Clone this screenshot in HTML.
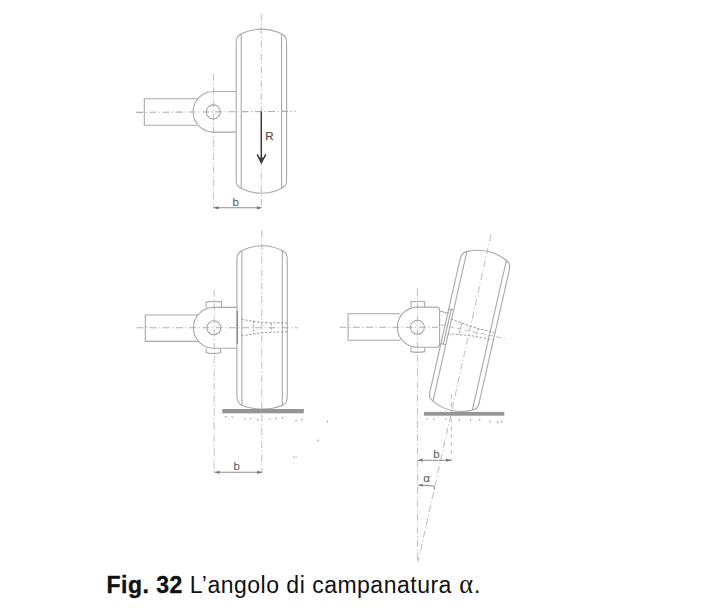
<!DOCTYPE html>
<html><head><meta charset="utf-8">
<style>
html,body{margin:0;padding:0;background:#fff;width:704px;height:615px;overflow:hidden}
svg{position:absolute;left:0;top:0}
.cap{position:absolute;left:106.5px;top:571px;font-family:"Liberation Sans",sans-serif;font-size:23px;letter-spacing:0.5px;color:#111;white-space:nowrap;line-height:28px}
.cap b{font-weight:bold;-webkit-text-stroke:0.35px #111}
.al{font-family:"Liberation Serif",serif;font-size:26.3px;margin-left:0.5px;letter-spacing:1px}
</style></head>
<body>
<svg width="704" height="615" viewBox="0 0 704 615">
<defs><path id="tire" d="M -25.2,-68.5 C -25.2,-73.5 -23.4,-75.5 -20.2,-77.1 A 48.57 48.57 0 0 1 20.2,-77.1 C 23.4,-75.5 25.2,-73.5 25.2,-68.5 L 25.2,68.5 C 25.2,73.5 23.4,74.9 20.2,76.5 A 43.30 43.30 0 0 1 -20.2,76.5 C -23.4,74.9 -25.2,73.5 -25.2,68.5 Z M -20.2,-77.1 V 76.5 M 20.2,-77.1 V 76.5"/><path id="tire2" d="M -25.2,-68.5 C -25.2,-73.5 -23.4,-75.5 -20.2,-77.1 A 48.57 48.57 0 0 1 20.2,-77.1 C 23.4,-75.5 25.2,-73.5 25.2,-68.5 L 25.2,68.5 C 25.2,73.5 23.4,76.30000000000001 20.2,77.9 A 58.47 58.47 0 0 1 -20.2,77.9 C -23.4,76.30000000000001 -25.2,73.5 -25.2,68.5 Z M -20.2,-77.1 V 77.9 M 20.2,-77.1 V 77.9"/></defs>
<g fill="none" stroke="#a9a9a9" stroke-width="1.1">
<path d="M261.3,14 V208" stroke="#c4c4c4" stroke-dasharray="7 2.5 1.2 2.5"/>
<path d="M136,112.4 L296,111.3" stroke="#b0b0b0" stroke-dasharray="7 2.5 1.2 2.5"/>
<path d="M213.5,74 V208" stroke="#c4c4c4" stroke-dasharray="7 2.5 1.2 2.5"/>
<path d="M197.6,98.8 H144.3 V125.3 H197.6"/>
<path d="M236.4,91.5 H213.4 A20.3 20.3 0 0 0 213.4,132.1 H236.4"/>
<circle cx="213.3" cy="111.9" r="7"/>
<g transform="translate(261.4,111.3) scale(1,1.005)"><use href="#tire"/></g>
<path d="M214,207.8 H261.5" stroke="#8a8a8a"/>
</g>
<path d="M213.6,207.8 l5,-1.6 v3.2z M261.9,207.8 l-5,-1.6 v3.2z" fill="#777" stroke="none"/>
<path d="M261.3,111.5 V158" stroke="#3c3c3c" stroke-width="1.5" fill="none"/>
<path d="M257.2,154.3 L261.3,162.6 L265.9,154.3" stroke="#3c3c3c" stroke-width="1.5" fill="none" stroke-linejoin="miter"/>
<path d="M259.3,157.5 L261.3,163 L263.5,157.5z" fill="#3c3c3c"/>
<text x="265.2" y="140.3" font-family="Liberation Sans,sans-serif" font-size="11.5" fill="#505050" stroke="#505050" stroke-width="0.25">R</text>
<text x="232.4" y="205.6" font-family="Liberation Sans,sans-serif" font-size="11.5" fill="#555">b</text>
<g fill="none" stroke="#a9a9a9" stroke-width="1.1">
<path d="M261.8,230 V473" stroke="#c4c4c4" stroke-dasharray="7 2.5 1.2 2.5"/>
<path d="M136.4,327.8 H297.5" stroke="#b0b0b0" stroke-dasharray="7 2.5 1.2 2.5"/>
<path d="M214.2,290 V473" stroke="#c4c4c4" stroke-dasharray="7 2.5 1.2 2.5"/>
<path d="M198,315 H145.3 V341.4 H198"/>
<path d="M237.2,307.4 H213.9 A20.45 20.45 0 0 0 213.9,348.3 H237.2"/>
<path d="M206.2,307.4 V301.9 Q213.8,301.2 221.5,301.9 V307.4"/>
<path d="M206.2,348.3 V352.8 Q213.5,354.4 220.8,352.8 V348.3"/>
<circle cx="213.9" cy="327.8" r="7"/>
<g transform="translate(262.1,327.5)"><use href="#tire2"/></g>
<g stroke-dasharray="2.5 1.5" stroke="#a8a8a8">
<path d="M241.2,319.4 L263,322.6 L287.5,323"/>
<path d="M241.2,335.8 L263,332.6 L287.5,331.7"/>
<path d="M253.4,321 V334"/>
<path d="M271.5,323 V331.6"/>
<path d="M237.4,311 V344" stroke="#8a8a8a" stroke-dasharray="none" stroke-width="1.3"/>
</g>
<path d="M214.5,472.3 H262.2" stroke="#8a8a8a"/>
</g>
<path d="M214.5,472.3 l5,-1.6 v3.2z M262.2,472.3 l-5,-1.6 v3.2z" fill="#777" stroke="none"/>
<rect x="222.3" y="409" width="81.5" height="4.3" fill="#959595"/>
<g fill="#999"><rect x="225" y="416" width="1.3" height="1.3"/><rect x="231.5" y="416.5" width="1.3" height="1.3"/><rect x="244.3" y="418.5" width="1.3" height="1.3"/><rect x="250" y="418" width="1.3" height="1.3"/><rect x="257" y="419" width="1.3" height="1.3"/><rect x="269.2" y="418.5" width="1.3" height="1.3"/><rect x="275.6" y="418" width="1.3" height="1.3"/><rect x="282" y="417" width="1.3" height="1.3"/><rect x="295.4" y="420" width="1.3" height="1.3"/><rect x="301.2" y="419" width="1.3" height="1.3"/></g>
<text x="233.5" y="469.5" font-family="Liberation Sans,sans-serif" font-size="11.5" fill="#555">b</text>
<g fill="none" stroke="#a9a9a9" stroke-width="1.1">
<path d="M339.6,327.3 H438" stroke="#b0b0b0" stroke-dasharray="7 2.5 1.2 2.5"/>
<path d="M417.5,289 V562" stroke="#c4c4c4" stroke-dasharray="7 2.5 1.2 2.5"/>
<path d="M491,234.5 L418,562" stroke="#c4c4c4" stroke-dasharray="7 2.5 1.2 2.5"/>
<path d="M451.3,394 V461" stroke="#c4c4c4" stroke-dasharray="5 3"/>
<path d="M400.5,313.7 H348.1 V340.3 H400.5"/>
<path d="M417.4,307.1 H436.6 Q439.6,307.1 439.6,310.1 V344.2 Q439.6,347.2 436.6,347.2 H417.4 A20.05 20.05 0 0 1 417.4,307.1"/>
<path d="M411,307.1 V301.6 Q417.9,300.9 424.8,301.6 V307.1"/>
<path d="M411,347.2 V351.6 Q417.9,353.2 424.8,351.6 V347.2"/>
<circle cx="417.4" cy="327.3" r="7"/>
<g transform="translate(469.6,331) rotate(12.8)"><use href="#tire"/>
<g stroke-dasharray="2.5 1.5" stroke="#a8a8a8">
<path d="M-21,-7.5 L2,-4.6 L24.5,-3.8"/>
<path d="M-20.6,7.5 L2,4.2 L24,3.4"/>
<path d="M-9.5,-6 V6.5"/>
<path d="M7.7,-4.5 V4"/>
</g>
<path d="M-29,0.3 L36,-0.4" stroke="#c4c4c4" stroke-dasharray="5 3"/>
<path d="M-25.2,-17 H-20.2 M-25.2,18.7 H-20.2 M-22.7,-17 V18.7" stroke="#a5a5a5"/>
</g>
<path d="M439.7,311 L448.7,313.3"/>
<path d="M417.6,460.2 H451.2" stroke="#8a8a8a"/>
<path d="M418.5,485.3 Q426,485 433.6,486.2 Q435,487 434.5,489.5" stroke="#8a8a8a"/>
</g>
<path d="M417.6,460.2 l5,-1.6 v3.2z M451.2,460.2 l-5,-1.6 v3.2z" fill="#777" stroke="none"/>
<path d="M418.2,485.3 l4.5,-1.5 v3z" fill="#777"/>
<rect x="424" y="411.9" width="80.3" height="3.8" fill="#959595"/>
<g fill="#999"><rect x="426.5" y="418.5" width="1.3" height="1.3"/><rect x="433" y="418.5" width="1.3" height="1.3"/><rect x="445.5" y="418.5" width="1.3" height="1.3"/><rect x="458.7" y="419" width="1.3" height="1.3"/><rect x="470" y="419.5" width="1.3" height="1.3"/><rect x="479" y="419" width="1.3" height="1.3"/><rect x="489.5" y="421" width="1.3" height="1.3"/><rect x="497" y="422" width="1.3" height="1.3"/><rect x="501" y="421" width="1.3" height="1.3"/></g>
<text x="433.3" y="457.9" font-family="Liberation Sans,sans-serif" font-size="11.5" fill="#555">b</text>
<text x="423.2" y="482" font-family="Liberation Sans,sans-serif" font-size="11.5" fill="#555">α</text>
<g fill="#aaa"><rect x="317" y="439.6" width="1.6" height="1.6"/><rect x="293" y="456.5" width="1.3" height="1.3"/><rect x="295.5" y="456.5" width="1.3" height="1.3"/><rect x="327" y="420.5" width="1" height="2"/></g>
</svg>
<div class="cap"><b>Fig. 32</b> L’angolo di campanatura <span class="al">α</span>.</div>
</body></html>
